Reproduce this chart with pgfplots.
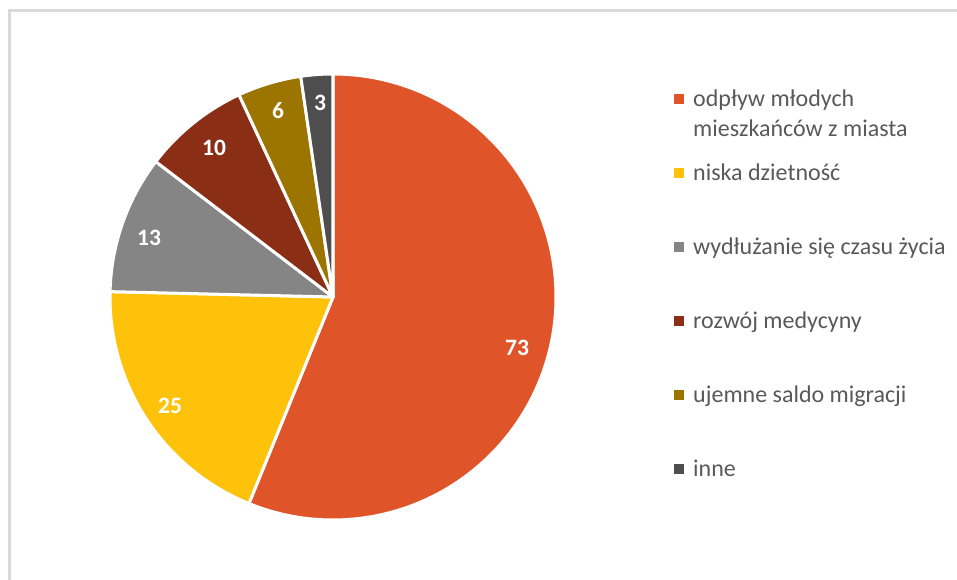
\documentclass[border=0pt]{standalone}
\usepackage{pgfplots}
\pgfplotsset{compat=1.18}
\usepackage{pgfplotstable}
\usepackage{fontspec}
\setmainfont{Carlito}
\definecolor{cOrange}{HTML}{E0542A}
\definecolor{cYellow}{HTML}{FEC20A}
\definecolor{cGray}{HTML}{858585}
\definecolor{cRed}{HTML}{8A2E16}
\definecolor{cGold}{HTML}{9C7400}
\definecolor{cDark}{HTML}{4E4E4E}
\definecolor{cText}{HTML}{595959}
\definecolor{cBorder}{HTML}{D9D9D9}
\pgfplotstableread{
idx value
0 73
1 25
2 13
3 10
4 6
5 3
}\piedata
\begin{document}
\begin{tikzpicture}
\useasboundingbox (0,0) rectangle (957pt,580pt);
\pgfplotstablegetelem{0}{value}\of\piedata\let\vA\pgfplotsretval
\pgfplotstablegetelem{1}{value}\of\piedata\let\vB\pgfplotsretval
\pgfplotstablegetelem{2}{value}\of\piedata\let\vC\pgfplotsretval
\pgfplotstablegetelem{3}{value}\of\piedata\let\vD\pgfplotsretval
\pgfplotstablegetelem{4}{value}\of\piedata\let\vE\pgfplotsretval
\pgfplotstablegetelem{5}{value}\of\piedata\let\vF\pgfplotsretval
\pgfmathsetmacro\tot{\vA+\vB+\vC+\vD+\vE+\vF}
\pgfmathsetmacro\aA{90}
\pgfmathsetmacro\aB{\aA-\vA/\tot*360}
\pgfmathsetmacro\aC{\aB-\vB/\tot*360}
\pgfmathsetmacro\aD{\aC-\vC/\tot*360}
\pgfmathsetmacro\aE{\aD-\vD/\tot*360}
\pgfmathsetmacro\aF{\aE-\vE/\tot*360}
\pgfmathsetmacro\aG{\aF-\vF/\tot*360}
\def\cx{333}\def\cy{283}\def\R{223}
\begin{axis}[
  at={(0,0)}, anchor=south west,
  x=1pt, y=1pt, xmin=0, xmax=957, ymin=0, ymax=580,
  hide axis, clip=false,
  legend cell align=left,
  legend image code/.code={\fill[#1,draw=none] (0pt,2.5pt) rectangle (10pt,12.5pt);},
  legend style={draw=none, fill=none, at={(axis cs:674,518.5)}, anchor=north west,
    inner sep=0pt, row sep=0pt, column sep=9pt,
    cells={anchor=base west},
    nodes={inner sep=0pt, text height=44.5pt, text depth=29.5pt,
      font=\fontsize{24}{30}\selectfont, text=cText}},
  every axis plot/.append style={line join=round},
]
\draw[cBorder, line width=3pt] (axis cs:9,0) -- (axis cs:9,569.5) -- (axis cs:957,569.5);
\addplot[fill=cOrange, draw=white, line width=3pt, domain=\aB:\aA, samples=200, variable=\t]
  ({\cx+\R*cos(\t)},{\cy+\R*sin(\t)}) -- (axis cs:\cx,\cy) -- cycle;
\addlegendentry{\begin{tabular}[t]{@{}l@{}}odpływ młodych\\mieszkańców z miasta\end{tabular}}
\addplot[fill=cYellow, draw=white, line width=3pt, domain=\aC:\aB, samples=80, variable=\t]
  ({\cx+\R*cos(\t)},{\cy+\R*sin(\t)}) -- (axis cs:\cx,\cy) -- cycle;
\addlegendentry{niska dzietność}
\addplot[fill=cGray, draw=white, line width=3pt, domain=\aD:\aC, samples=50, variable=\t]
  ({\cx+\R*cos(\t)},{\cy+\R*sin(\t)}) -- (axis cs:\cx,\cy) -- cycle;
\addlegendentry{wydłużanie się czasu życia}
\addplot[fill=cRed, draw=white, line width=3pt, domain=\aE:\aD, samples=40, variable=\t]
  ({\cx+\R*cos(\t)},{\cy+\R*sin(\t)}) -- (axis cs:\cx,\cy) -- cycle;
\addlegendentry{rozwój medycyny}
\addplot[fill=cGold, draw=white, line width=3pt, domain=\aF:\aE, samples=30, variable=\t]
  ({\cx+\R*cos(\t)},{\cy+\R*sin(\t)}) -- (axis cs:\cx,\cy) -- cycle;
\addlegendentry{ujemne saldo migracji}
\addplot[fill=cDark, draw=white, line width=3pt, domain=\aG:\aF, samples=20, variable=\t]
  ({\cx+\R*cos(\t)},{\cy+\R*sin(\t)}) -- (axis cs:\cx,\cy) -- cycle;
\addlegendentry{inne}
\begin{scope}[every node/.style={text=white, font=\bfseries\fontsize{23.5}{28}\selectfont}]
\node at (axis cs:517,232) {73};
\node at (axis cs:170,174) {25};
\node at (axis cs:149,342) {13};
\node at (axis cs:214,432) {10};
\node at (axis cs:278,469) {6};
\node at (axis cs:320,477) {3};
\end{scope}
\end{axis}
\end{tikzpicture}
\end{document}
